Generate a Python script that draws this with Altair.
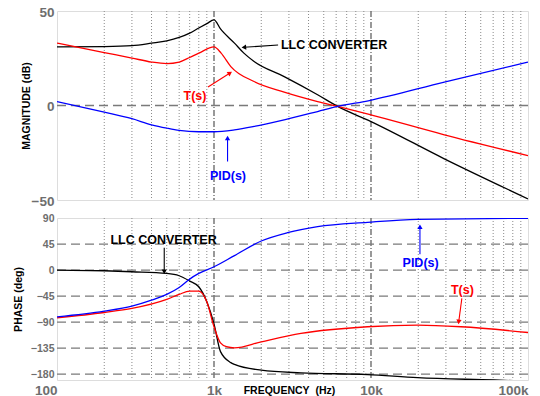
import altair as alt
import pandas as pd

FONT = "Liberation Sans"
GRAY = "#6e6e6e"

# ---- axes / grid values ----
FREQ_TICKS = [100, 1000, 10000, 100000]
FREQ_TICK_LABELS = ["100", "1k", "10k", "100k"]
GRID_MINOR = [200, 300, 400, 500, 600, 700, 800, 900,
              2000, 3000, 4000, 5000, 6000, 7000, 8000, 9000,
              20000, 30000, 40000, 50000, 60000, 70000, 80000, 90000]
GRID_DECADE = [1000, 10000]
MAG_TICKS = [-50, 0, 50]
PHASE_TICKS = [90, 45, 0, -45, -90, -135, -180]
MAG_DASHED = [0]
PHASE_DASHED = [45, 0, -45, -90, -135, -180]

SERIES = ["LLC CONVERTER", "T(s)", "PID(s)"]
COLORS = ["#000000", "#ff0000", "#0000ff"]

# ---- magnitude (dB) ----
LLC_MAG_F = [100, 200, 300, 400, 500, 600, 700, 800, 900, 1000, 1100, 1350, 1550, 1800,
             2800, 4570, 6130, 10000, 29300, 100000]
LLC_MAG_DB = [31.0, 31.2, 31.7, 33.0, 34.2, 36.0, 38.3, 41.0, 43.3, 45.3, 40.5, 33.0, 27.7, 23.3,
              15.3, 5.7, -0.5, -8.5, -28.2, -49.4]

T_MAG_F = [100, 200, 300, 400, 500, 600, 700, 800, 1000, 1110, 1280, 1800,
           2800, 4570, 6130, 9600, 29300, 100000]
T_MAG_DB = [33.0, 28.0, 25.1, 23.0, 22.2, 23.0, 25.4, 27.7, 31.0, 27.7, 20.6, 12.7,
            7.1, 2.1, -0.5, -4.6, -15.5, -26.5]

PID_MAG_F = [100, 200, 300, 400, 500, 600, 800, 1000, 1350, 1800, 2800, 4570, 6130,
             9600, 29300, 100000]
PID_MAG_DB = [2.1, -3.5, -7.0, -10.2, -12.0, -13.2, -13.9, -13.9, -12.9, -11.1, -7.6, -3.2, -0.5,
              2.5, 12.4, 23.0]

# ---- phase (deg) ----
LLC_PH_F = [100, 200, 300, 500, 600, 700, 800, 900, 1000, 1100, 1280, 1350, 2000,
            3580, 9500, 19800, 61000, 100000]
LLC_PH_DEG = [0.0, -1.2, -2.9, -5.8, -9.8, -19.0, -28.8, -54.8, -93.0, -141.0, -160.0, -163.0, -173.0,
              -177.7, -180.6, -186.0, -190.0, -192.0]

T_PH_F = [100, 200, 300, 500, 600, 700, 800, 900, 1000, 1100, 1200, 1350, 2000,
          3580, 9500, 19800, 37400, 100000]
T_PH_DEG = [-82.5, -73.3, -66.3, -50.7, -42.0, -36.5, -36.5, -54.8, -98.0, -126.0, -132.5, -134.5, -124.0,
            -109.6, -98.0, -95.2, -98.0, -107.9]

PID_PH_F = [100, 200, 300, 400, 500, 600, 700, 800, 1000, 1350, 2000, 2940, 4570,
            9500, 19800, 100000]
PID_PH_DEG = [-80.8, -71.0, -62.3, -52.0, -42.0, -30.0, -15.6, -5.8, 5.7, 25.0, 50.2, 64.6, 75.0,
              82.5, 87.7, 89.5]

# ---- annotations ----
MAG_TEXT = ["LLC CONVERTER", "T(s)", "PID(s)"]
MAG_TEXT_F = [2670, 757, 1227]
MAG_TEXT_V = [32.0, 5.0, -37.3]
MAG_TEXT_ALIGN = ["left", "center", "center"]
MAG_ARROW_F = [2560, 916, 1220]
MAG_ARROW_V = [32.0, 9.8, -29.6]
MAG_ARROW_F2 = [1550, 1265, 1220]
MAG_ARROW_V2 = [30.8, 17.2, -17.2]
MAG_ARROW_ANGLE = [266, 57, 0]

PH_TEXT = ["LLC CONVERTER", "PID(s)", "T(s)"]
PH_TEXT_F = [477, 20700, 38200]
PH_TEXT_V = [52.4, 13.0, -35.1]
PH_TEXT_ALIGN = ["center", "center", "center"]
PH_ARROW_F = [482, 20500, 37900]
PH_ARROW_V = [38.6, 27.2, -49.0]
PH_ARROW_F2 = [482, 20500, 36200]
PH_ARROW_V2 = [-2.9, 74.9, -89.5]
PH_ARROW_ANGLE = [180, 0, 187]

W = 471
H_TOP = 189
H_BOT = 162

x_scale = alt.Scale(type="log", domain=[100, 100000], nice=False)
mag_scale = alt.Scale(domain=[-50, 50], nice=False)
ph_scale = alt.Scale(domain=[-190, 90], nice=False)
color_scale = alt.Scale(domain=SERIES, range=COLORS)

label_expr = " : ".join(
    f"datum.value == {v} ? '{l}'" for v, l in zip(FREQ_TICKS, FREQ_TICK_LABELS)
) + " : ''"

X_AXIS_BOT = alt.Axis(
    values=FREQ_TICKS, labelExpr=label_expr, grid=False, ticks=False, domain=False,
    tickSize=0, labelPadding=3, labelFont=FONT, labelFontSize=13.5, labelFontWeight="bold",
    labelColor=GRAY, labelBaseline="top",
    labelAlign={"condition": {"test": "datum.value == 100 || datum.value == 100000", "value": "right"},
                "value": "center"},
    title="FREQUENCY\u00a0\u00a0(Hz)", titleFont=FONT, titleFontSize=10.5, titleFontWeight="bold",
    titleColor="black", titleX=232, titleY=5, titleAlign="center", titleBaseline="top",
    labelFlush=False, labelOverlap=False,
)

Y_AXIS_MAG = alt.Axis(
    values=MAG_TICKS, grid=False, ticks=False, domain=False, tickSize=0, labelPadding=3,
    labelFont=FONT, labelFontSize=13.5, labelFontWeight="bold", labelColor=GRAY,
    labelOffset=1, labelFlush=False, labelOverlap=False,
    title="MAGNITUDE (dB)", titleFont=FONT, titleFontSize=10.5, titleFontWeight="bold",
    titleColor="black", titleX=-28, titleY=H_TOP / 2, titleAngle=270,
    titleAlign="center", titleBaseline="alphabetic",
)

Y_AXIS_PH = alt.Axis(
    values=PHASE_TICKS, grid=False, ticks=False, domain=False, tickSize=0, labelPadding=3,
    labelFont=FONT, labelFontSize=10.5, labelFontWeight="bold", labelColor=GRAY,
    labelFlush=False, labelOverlap=False,
    title="PHASE (deg)", titleFont=FONT, titleFontSize=10.5, titleFontWeight="bold",
    titleColor="black", titleX=-36, titleY=H_BOT / 2, titleAngle=270,
    titleAlign="center", titleBaseline="alphabetic",
)


def series_df(fs, vs, name):
    return pd.DataFrame({"f": fs, "v": vs, "series": name})


def panel(curves, dashed, texts, arrows, y_scale, y_axis, x_axis, height):
    x_enc = alt.X("f:Q", scale=x_scale, axis=x_axis)
    y_enc = alt.Y("v:Q", scale=y_scale, axis=y_axis)

    minor = alt.Chart(pd.DataFrame({"f": GRID_MINOR})).mark_rule(
        color="#8a8a8a", strokeWidth=1, strokeDash=[1, 2]
    ).encode(x=x_enc)
    decade = alt.Chart(pd.DataFrame({"f": GRID_DECADE})).mark_rule(
        color="#555555", strokeWidth=1.2, strokeDash=[6, 2, 1, 2]
    ).encode(x=x_enc)
    hdash = alt.Chart(pd.DataFrame({"v": dashed})).mark_rule(
        color="#7a7a7a", strokeWidth=1.3, strokeDash=[9, 5]
    ).encode(y=y_enc)

    lines = alt.Chart(curves).mark_line(strokeWidth=1.3, clip=True, interpolate="monotone").encode(
        x=x_enc, y=y_enc,
        color=alt.Color("series:N", scale=color_scale, legend=None),
        detail="series:N",
    )

    tdf, adf = texts, arrows
    text_layers = []
    for al in ["left", "center"]:
        sub = tdf[tdf["align"] == al]
        if len(sub):
            text_layers.append(
                alt.Chart(sub).mark_text(
                    font=FONT, fontSize=12.5, fontWeight="bold", align=al, baseline="middle"
                ).encode(
                    x=x_enc, y=y_enc, text="label:N",
                    color=alt.Color("series:N", scale=color_scale, legend=None),
                )
            )
    arrow_lines = alt.Chart(adf).mark_rule(strokeWidth=1.1).encode(
        x=x_enc, y=y_enc, x2="f2:Q", y2="v2:Q",
        color=alt.Color("series:N", scale=color_scale, legend=None),
    )
    heads = alt.Chart(adf).mark_point(shape="triangle-up", filled=True, size=28, opacity=1).encode(
        x=alt.X("f2:Q", scale=x_scale, axis=x_axis),
        y=alt.Y("v2:Q", scale=y_scale, axis=y_axis),
        angle=alt.Angle("angle:Q", scale=None),
        color=alt.Color("series:N", scale=color_scale, legend=None),
    )
    return alt.layer(minor, decade, hdash, lines, arrow_lines, heads, *text_layers).properties(
        width=W, height=height
    )


mag_curves = pd.concat([
    series_df(LLC_MAG_F, LLC_MAG_DB, SERIES[0]),
    series_df(T_MAG_F, T_MAG_DB, SERIES[1]),
    series_df(PID_MAG_F, PID_MAG_DB, SERIES[2]),
])
ph_curves = pd.concat([
    series_df(LLC_PH_F, LLC_PH_DEG, SERIES[0]),
    series_df(T_PH_F, T_PH_DEG, SERIES[1]),
    series_df(PID_PH_F, PID_PH_DEG, SERIES[2]),
])

mag_texts = pd.DataFrame({"f": MAG_TEXT_F, "v": MAG_TEXT_V, "label": MAG_TEXT,
                          "series": MAG_TEXT, "align": MAG_TEXT_ALIGN})
mag_arrows = pd.DataFrame({"f": MAG_ARROW_F, "v": MAG_ARROW_V, "f2": MAG_ARROW_F2,
                           "v2": MAG_ARROW_V2, "angle": MAG_ARROW_ANGLE, "series": MAG_TEXT})
ph_texts = pd.DataFrame({"f": PH_TEXT_F, "v": PH_TEXT_V, "label": PH_TEXT,
                         "series": PH_TEXT, "align": PH_TEXT_ALIGN})
ph_arrows = pd.DataFrame({"f": PH_ARROW_F, "v": PH_ARROW_V, "f2": PH_ARROW_F2,
                          "v2": PH_ARROW_V2, "angle": PH_ARROW_ANGLE, "series": PH_TEXT})

top = panel(mag_curves, MAG_DASHED, mag_texts, mag_arrows, mag_scale, Y_AXIS_MAG, None, H_TOP)
bottom = panel(ph_curves, PHASE_DASHED, ph_texts, ph_arrows, ph_scale, Y_AXIS_PH, X_AXIS_BOT, H_BOT)

chart = alt.vconcat(top, bottom, spacing=18, bounds="flush").properties(
    padding={"left": 4, "top": -4, "right": 0, "bottom": 0}
).configure_view(stroke=GRAY, strokeWidth=2).configure(background="white")

chart.save("out.html", embed_options={"renderer": "svg", "actions": False})
